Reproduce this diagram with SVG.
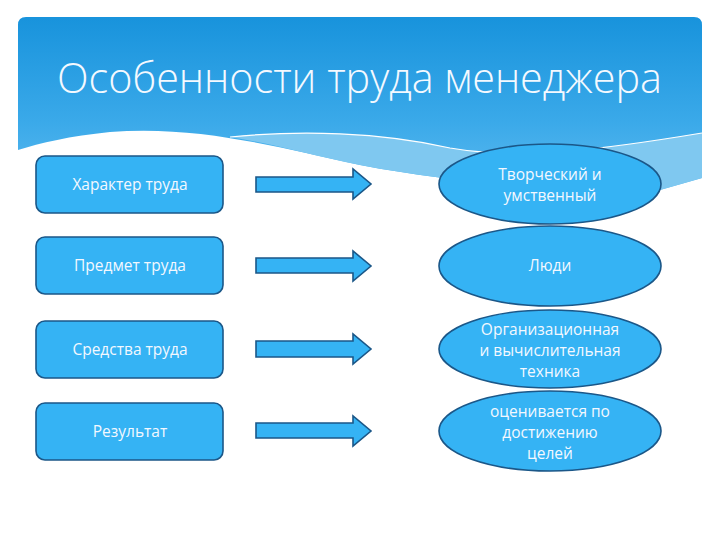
<svg xmlns="http://www.w3.org/2000/svg" width="720" height="540" viewBox="0 0 720 540">
<defs>
<linearGradient id="hdr" x1="0" y1="0" x2="0" y2="1">
<stop offset="0" stop-color="#1893dc"/>
<stop offset="0.6" stop-color="#3aa9e9"/>
<stop offset="1" stop-color="#5bbaf0"/>
</linearGradient>
<style>
.box{fill:#35b3f4;stroke:#1b5788;stroke-width:1.6}
.arr{fill:#35b3f4;stroke:#1b5788;stroke-width:1.6;stroke-linejoin:miter}
.t{font-family:"Open Sans","Noto Sans","DejaVu Sans",sans-serif;font-size:15.5px;fill:#f3f8ff;text-anchor:middle}
.title{font-family:"Open Sans","Noto Sans","DejaVu Sans",sans-serif;font-size:42px;fill:#f4f9ff;font-weight:300}
</style>
</defs>
<rect width="720" height="540" fill="#ffffff"/>
<g id="header">
<path d="M26,17 H694 Q702,17 702,25 V178 L660,190 C560,188 470,186 360,165 C280,148 200,125 110,132 C70,136 40,143 18,150 V25 Q18,17 26,17 Z" fill="url(#hdr)"/>
<path d="M230,137 C300,130 380,132 450,148 C520,160 600,150 702,133 V178 L660,190 C560,188 470,186 360,165 C310,155 270,143 230,137 Z" fill="#7fc8f0"/>
<path d="M230,137 C300,130 380,132 450,148 C520,160 600,150 702,133" fill="none" stroke="#ffffff" stroke-width="1.2"/>
<text class="title" x="57" y="93" textLength="605" lengthAdjust="spacingAndGlyphs">Особенности труда менеджера</text>
</g>
<g id="connectors">
<polygon class="arr" points="256,177 353,177 353,169 371,184 353,199 353,192 256,192"/>
<polygon class="arr" points="256,258 353,258 353,251 371,266 353,281 353,273 256,273"/>
<polygon class="arr" points="256,341 353,341 353,334 371,349 353,364 353,357 256,357"/>
<polygon class="arr" points="256,423 353,423 353,416 371,431 353,446 353,438 256,438"/>
</g>
<g id="n1"><rect class="box" x="36" y="156" width="187" height="57" rx="9"/><text class="t" x="130" y="190">Характер труда</text></g>
<g id="n2"><rect class="box" x="36" y="237" width="187" height="57" rx="9"/><text class="t" x="130" y="271">Предмет труда</text></g>
<g id="n3"><rect class="box" x="36" y="321" width="187" height="57" rx="9"/><text class="t" x="130" y="355">Средства труда</text></g>
<g id="n4"><rect class="box" x="36" y="403" width="187" height="57" rx="9"/><text class="t" x="130" y="437">Результат</text></g>
<g id="e1"><ellipse class="box" cx="550" cy="184" rx="111" ry="40"/><text class="t" x="550" y="180">Творческий и</text><text class="t" x="550" y="201">умственный</text></g>
<g id="e2"><ellipse class="box" cx="550" cy="266" rx="111" ry="40"/><text class="t" x="550" y="271">Люди</text></g>
<g id="e3"><ellipse class="box" cx="550" cy="349" rx="111" ry="39"/><text class="t" x="550" y="335">Организационная</text><text class="t" x="550" y="356">и вычислительная</text><text class="t" x="550" y="377">техника</text></g>
<g id="e4"><ellipse class="box" cx="550" cy="431" rx="111" ry="40"/><text class="t" x="550" y="417">оценивается по</text><text class="t" x="550" y="438">достижению</text><text class="t" x="550" y="459">целей</text></g>
</svg>
